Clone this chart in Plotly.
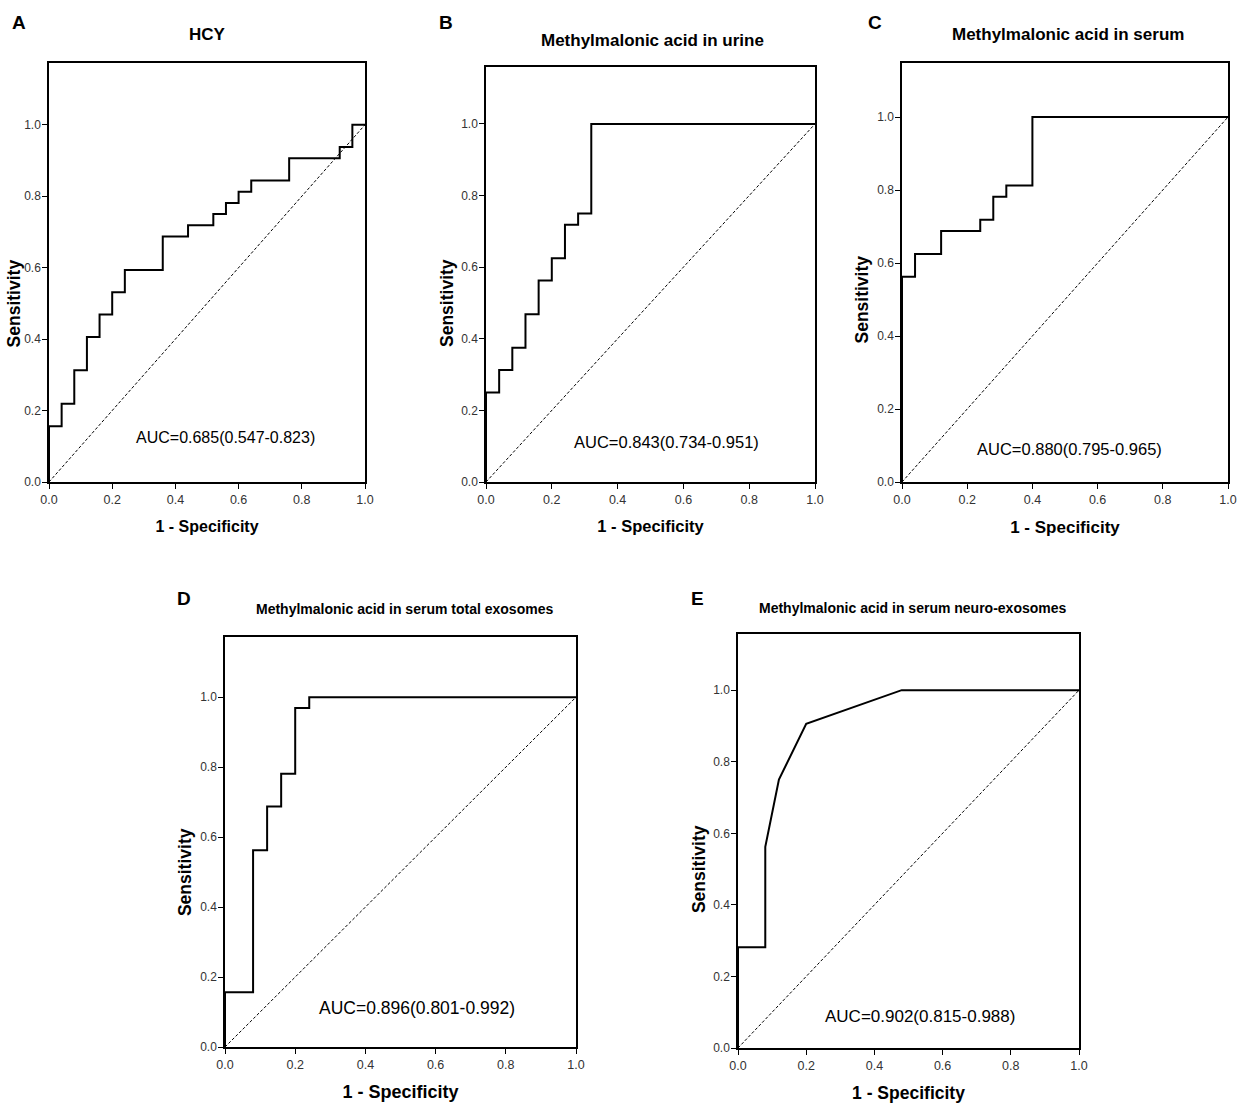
import plotly.graph_objects as go

# ---------------- data (ROC coordinates) ----------------
panel_letters = ["A", "B", "C", "D", "E"]
panel_titles = [
    "HCY",
    "Methylmalonic acid in urine",
    "Methylmalonic acid in serum",
    "Methylmalonic acid in serum total exosomes",
    "Methylmalonic acid in serum neuro-exosomes",
]
auc_texts = [
    "AUC=0.685(0.547-0.823)",
    "AUC=0.843(0.734-0.951)",
    "AUC=0.880(0.795-0.965)",
    "AUC=0.896(0.801-0.992)",
    "AUC=0.902(0.815-0.988)",
]

fpr_hcy = [0, 0, 0.04, 0.04, 0.08, 0.08, 0.12, 0.12, 0.16, 0.16, 0.20, 0.20, 0.24, 0.24,
           0.36, 0.36, 0.44, 0.44, 0.52, 0.52, 0.56, 0.56, 0.60, 0.60, 0.64, 0.64,
           0.76, 0.76, 0.92, 0.92, 0.96, 0.96, 1.0]
tpr_hcy = [0, 0.15625, 0.15625, 0.21875, 0.21875, 0.3125, 0.3125, 0.40625, 0.40625, 0.46875,
           0.46875, 0.53125, 0.53125, 0.59375, 0.59375, 0.6875, 0.6875, 0.71875, 0.71875, 0.75,
           0.75, 0.78125, 0.78125, 0.8125, 0.8125, 0.84375, 0.84375, 0.90625, 0.90625, 0.9375,
           0.9375, 1.0, 1.0]

fpr_urine = [0, 0, 0.04, 0.04, 0.08, 0.08, 0.12, 0.12, 0.16, 0.16, 0.20, 0.20, 0.24, 0.24,
             0.28, 0.28, 0.32, 0.32, 1.0]
tpr_urine = [0, 0.25, 0.25, 0.3125, 0.3125, 0.375, 0.375, 0.46875, 0.46875, 0.5625, 0.5625,
             0.625, 0.625, 0.71875, 0.71875, 0.75, 0.75, 1.0, 1.0]

fpr_serum = [0, 0, 0.04, 0.04, 0.12, 0.12, 0.24, 0.24, 0.28, 0.28, 0.32, 0.32, 0.40, 0.40, 1.0]
tpr_serum = [0, 0.5625, 0.5625, 0.625, 0.625, 0.6875, 0.6875, 0.71875, 0.71875, 0.78125,
             0.78125, 0.8125, 0.8125, 1.0, 1.0]

fpr_total = [0, 0, 0.08, 0.08, 0.12, 0.12, 0.16, 0.16, 0.20, 0.20, 0.24, 0.24, 1.0]
tpr_total = [0, 0.15625, 0.15625, 0.5625, 0.5625, 0.6875, 0.6875, 0.78125, 0.78125, 0.96875,
             0.96875, 1.0, 1.0]

fpr_neuro = [0, 0, 0.08, 0.08, 0.12, 0.20, 0.48, 1.0]
tpr_neuro = [0, 0.28125, 0.28125, 0.5625, 0.75, 0.90625, 1.0, 1.0]

ref_line = [0, 1]
tick_vals = [0, 0.2, 0.4, 0.6, 0.8, 1.0]
tick_text = ["0.0", "0.2", "0.4", "0.6", "0.8", "1.0"]
x_title = "1 - Specificity"
y_title = "Sensitivity"

curves = [(fpr_hcy, tpr_hcy), (fpr_urine, tpr_urine), (fpr_serum, tpr_serum),
          (fpr_total, tpr_total), (fpr_neuro, tpr_neuro)]

# ---------------- layout geometry ----------------
W, H = 1248, 1117
# plot boxes in page pixels: (x0, x1, ybottom, ytop)
boxes = [
    (49, 365, 482, 63),
    (486, 815, 482, 67),
    (902, 1228, 482, 63),
    (225, 576, 1047, 637),
    (738, 1079, 1048, 634),
]
ymax = [1.173, 1.159, 1.148, 1.172, 1.157]
auc_pos = [(0.557, 0.124), (0.55, 0.113), (0.515, 0.091), (0.547, 0.111), (0.534, 0.087)]
auc_size = [16, 16.5, 16.5, 17.5, 17]
letter_pos = [(10, 22), (437, 22), (866, 22), (175, 598), (689, 598)]
title_pos = [(207, 34), (652, 40), (1068, 35), (404, 609), (913, 608)]
title_size = [17, 17, 17, 14, 14]
xtitle_size = [16, 16.5, 17, 18, 17.5]
ytitle_x = [14, 447, 862, 185, 699]
ytitle_size = 17.5


def px(x):
    return x / W


def py(y):
    return 1 - y / H


FONT = "Liberation Sans, Arial, sans-serif"

fig = go.Figure()
annotations = []
layout_axes = {}

for i, (fx, ty) in enumerate(curves):
    n = i + 1
    xa = "x" if n == 1 else f"x{n}"
    ya = "y" if n == 1 else f"y{n}"
    fig.add_trace(go.Scatter(x=ref_line, y=ref_line, mode="lines", xaxis=xa, yaxis=ya,
                             line=dict(color="black", width=1, dash="3px,2px"),
                             showlegend=False, hoverinfo="skip"))
    fig.add_trace(go.Scatter(x=fx, y=ty, mode="lines", xaxis=xa, yaxis=ya,
                             line=dict(color="black", width=2),
                             showlegend=False, cliponaxis=False))
    x0, x1, yb, yt = boxes[i]
    xkey = "xaxis" if n == 1 else f"xaxis{n}"
    ykey = "yaxis" if n == 1 else f"yaxis{n}"
    layout_axes[xkey] = dict(
        domain=[px(x0), px(x1)], anchor=ya, range=[0, 1], automargin=False,
        tickvals=tick_vals, ticktext=tick_text, ticks="outside", ticklen=5,
        tickwidth=1.2, tickcolor="black",
        showline=True, linecolor="black", linewidth=1.5, mirror=True,
        showgrid=False, zeroline=False,
        tickfont=dict(family=FONT, size=12.5, color="#333333"),
        title=dict(text=f"<b>{x_title}</b>", standoff=15,
                   font=dict(family=FONT, size=xtitle_size[i], color="black")),
    )
    layout_axes[ykey] = dict(
        domain=[py(yb), py(yt)], anchor=xa, range=[0, ymax[i]], automargin=False,
        tickvals=tick_vals, ticktext=tick_text, ticks="outside", ticklen=5,
        tickwidth=1.2, tickcolor="black", ticklabelstandoff=-1,
        showline=True, linecolor="black", linewidth=1.5, mirror=True,
        showgrid=False, zeroline=False,
        tickfont=dict(family=FONT, size=12, color="#333333"),
    )
    # y-axis title, centred on the 0-1 data range
    annotations.append(dict(x=px(ytitle_x[i]), y=0.5, xref="paper", yref=ya,
                            text=f"<b>{y_title}</b>", textangle=-90, showarrow=False,
                            xanchor="center", yanchor="middle",
                            font=dict(family=FONT, size=ytitle_size, color="black")))
    ax_x, ax_y = auc_pos[i]
    annotations.append(dict(x=ax_x, y=ax_y, xref=xa, yref=ya, text=auc_texts[i],
                            showarrow=False,
                            font=dict(family=FONT, size=auc_size[i], color="black")))
    lx, ly = letter_pos[i]
    annotations.append(dict(x=px(lx), y=py(ly), xref="paper", yref="paper",
                            text=f"<b>{panel_letters[i]}</b>", showarrow=False,
                            xanchor="left", yanchor="middle",
                            font=dict(family=FONT, size=19, color="black")))
    tx, tyy = title_pos[i]
    annotations.append(dict(x=px(tx), y=py(tyy), xref="paper", yref="paper",
                            text=f"<b>{panel_titles[i]}</b>", showarrow=False,
                            xanchor="center", yanchor="middle",
                            font=dict(family=FONT, size=title_size[i], color="black")))

fig.update_layout(
    width=W, height=H,
    margin=dict(l=0, r=0, t=0, b=0),
    paper_bgcolor="white", plot_bgcolor="white",
    annotations=annotations,
    **layout_axes,
)

fig.write_html("out.html", config={"displayModeBar": False},
               post_script="document.body.style.margin='0px';")
